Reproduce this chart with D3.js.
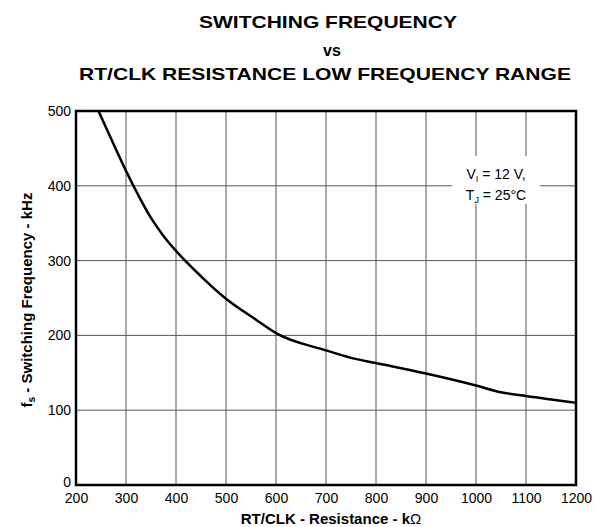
<!DOCTYPE html>
<html>
<head>
<meta charset="utf-8">
<script src="https://cdn.jsdelivr.net/npm/d3@7"></script>
<style>
  html, body { margin: 0; padding: 0; background: #fff; }
  svg { display: block; font-family: "Liberation Sans", Arial, sans-serif; }
</style>
</head>
<body>
<svg id="chart" width="594" height="527"></svg>
<script>
// RT/CLK resistance (kOhm) and resulting switching frequency (kHz)
const resistance = [245, 275, 300, 325, 350, 375, 400, 450, 500, 560, 600, 700, 750, 800, 900, 1000, 1050, 1100, 1200];
const frequency  = [500, 456, 420, 387, 357, 333, 313, 279, 249, 221, 203, 180, 170, 163, 149, 133, 124, 119, 110];

const xTicks = [200, 300, 400, 500, 600, 700, 800, 900, 1000, 1100, 1200];
const yTicks = [0, 100, 200, 300, 400, 500];

const titleLines = ["SWITCHING FREQUENCY", "vs", "RT/CLK RESISTANCE LOW FREQUENCY RANGE"];

const svg = d3.select("#chart");
const plotL = 76, plotR = 576, plotT = 111, plotB = 485;

const x = d3.scaleLinear().domain([200, 1200]).range([plotL, plotR]);
const y = d3.scaleLinear().domain([0, 500]).range([plotB, plotT]);

// Title
const title = svg.append("g").attr("font-weight", "bold").attr("fill", "#000").attr("text-anchor", "middle");
title.append("text").attr("x", 328).attr("y", 28).attr("font-size", 17)
  .attr("textLength", 258).attr("lengthAdjust", "spacingAndGlyphs").text(titleLines[0]);
title.append("text").attr("x", 332).attr("y", 56).attr("font-size", 16).text(titleLines[1]);
title.append("text").attr("x", 325).attr("y", 80).attr("font-size", 17)
  .attr("textLength", 492).attr("lengthAdjust", "spacingAndGlyphs").text(titleLines[2]);

// Grid
const grid = svg.append("g").attr("stroke", "#555").attr("stroke-width", 1);
grid.selectAll("line.v").data(xTicks.slice(1, -1)).join("line")
  .attr("x1", d => x(d)).attr("x2", d => x(d)).attr("y1", plotT).attr("y2", plotB);
grid.selectAll("line.h").data(yTicks.slice(1, -1)).join("line")
  .attr("x1", plotL).attr("x2", plotR).attr("y1", d => y(d)).attr("y2", d => y(d));

// Condition note with a white backing
svg.append("rect").attr("x", 452).attr("y", 156).attr("width", 88).attr("height", 48).attr("fill", "#fff");
const note = svg.append("g").attr("font-size", 14).attr("fill", "#000").attr("text-anchor", "middle");
const n1 = note.append("text").attr("x", 496).attr("y", 179);
n1.append("tspan").text("V");
n1.append("tspan").attr("font-size", 9).attr("dy", 3).text("I");
n1.append("tspan").attr("dy", -3).text(" = 12 V,");
const n2 = note.append("text").attr("x", 496).attr("y", 200);
n2.append("tspan").text("T");
n2.append("tspan").attr("font-size", 9).attr("dy", 3).text("J");
n2.append("tspan").attr("dy", -3).text(" = 25°C");

// Curve
const line = d3.line().x(d => x(d[0])).y(d => y(d[1])).curve(d3.curveMonotoneX);
svg.append("path")
  .datum(resistance.map((r, i) => [r, frequency[i]]))
  .attr("fill", "none").attr("stroke", "#000").attr("stroke-width", 2.5)
  .attr("stroke-linejoin", "round")
  .attr("d", line);

// Frame
svg.append("rect").attr("x", plotL).attr("y", plotT).attr("width", plotR - plotL).attr("height", plotB - plotT)
  .attr("fill", "none").attr("stroke", "#000").attr("stroke-width", 2.5);

// Axes (labels only; frame and grid drawn above)
const xAxis = svg.append("g").attr("transform", `translate(0,${plotB + 5})`)
  .call(d3.axisBottom(x).tickValues(xTicks).tickSize(0).tickPadding(0).tickFormat(d3.format("d")));
xAxis.select(".domain").remove();
xAxis.selectAll("text").attr("font-size", 14).attr("font-family", "Liberation Sans, Arial, sans-serif")
  .attr("fill", "#000").attr("dy", "0.9em");

const yAxis = svg.append("g").attr("transform", `translate(${plotL - 5},0)`)
  .call(d3.axisLeft(y).tickValues(yTicks).tickSize(0).tickPadding(0).tickFormat(d3.format("d")));
yAxis.select(".domain").remove();
yAxis.selectAll("text").attr("font-size", 14).attr("font-family", "Liberation Sans, Arial, sans-serif")
  .attr("fill", "#000").attr("dy", d => d === 0 ? "0.1em" : "0.32em");

// Axis titles
const xt = svg.append("text").attr("x", 331).attr("y", 524).attr("text-anchor", "middle")
  .attr("font-size", 15).attr("font-weight", "bold");
xt.append("tspan").text("RT/CLK - Resistance - k");
xt.append("tspan").attr("font-weight", "normal").text("Ω");

const yt = svg.append("text").attr("transform", "translate(32,300) rotate(-90)")
  .attr("text-anchor", "middle").attr("font-size", 15).attr("font-weight", "bold");
yt.append("tspan").text("f");
yt.append("tspan").attr("font-size", 10).attr("dy", 3).text("s");
yt.append("tspan").attr("dy", -3).text(" - Switching Frequency - kHz");
</script>
</body>
</html>
